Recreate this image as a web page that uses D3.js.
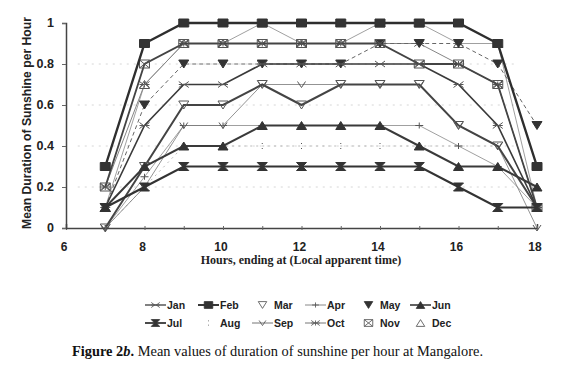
<!DOCTYPE html>
<html><head><meta charset="utf-8">
<script src="https://cdn.jsdelivr.net/npm/d3@7"></script>
<style>body{margin:0;background:#fff}svg{display:block}</style>
</head><body>
<svg id="c" width="572" height="366"></svg>
<script>
const hours = [7,8,9,10,11,12,13,14,15,16,17,18];
const xTicks = [6,8,10,12,14,16,18];
const yTicks = [0,0.2,0.4,0.6,0.8,1];
const yTickLabels = ["0","0.2","0.4","0.6","0.8","1"];
const months = ["Jan","Feb","Mar","Apr","May","Jun","Jul","Aug","Sep","Oct","Nov","Dec"];
const jan = [0.1,0.5,0.7,0.7,0.8,0.8,0.8,0.8,0.8,0.7,0.5,0.1];
const feb = [0.3,0.9,1.0,1.0,1.0,1.0,1.0,1.0,1.0,1.0,0.9,0.3];
const mar = [0.0,0.3,0.6,0.6,0.7,0.6,0.7,0.7,0.7,0.5,0.4,0.1];
const apr = [0.0,0.25,0.5,0.5,0.5,0.5,0.5,0.5,0.5,0.4,0.3,0.1];
const may = [0.1,0.6,0.8,0.8,0.8,0.8,0.8,0.9,0.9,0.9,0.8,0.5];
const jun = [0.1,0.3,0.4,0.4,0.5,0.5,0.5,0.5,0.4,0.3,0.3,0.2];
const jul = [0.1,0.2,0.3,0.3,0.3,0.3,0.3,0.3,0.3,0.2,0.1,0.1];
const aug = [0.0,0.2,0.4,0.4,0.4,0.4,0.4,0.4,0.4,0.4,0.4,0.1];
const sep = [0.0,0.2,0.5,0.5,0.7,0.7,0.7,0.7,0.7,0.5,0.4,0.0];
const oct = [0.2,0.7,0.9,0.9,0.9,0.9,0.9,0.9,0.9,0.8,0.7,0.1];
const nov = [0.2,0.8,0.9,0.9,0.9,0.9,0.9,0.9,0.8,0.8,0.7,0.1];
const dec = [0.1,0.7,0.9,0.9,1.0,0.9,0.9,1.0,1.0,0.9,0.9,0.1];
const seriesValues = [jan,feb,mar,apr,may,jun,jul,aug,sep,oct,nov,dec];

const styles = {
  Jan:{w:1.6,c:"#3a3a3a",dash:null,m:"jan"},
  Feb:{w:2.4,c:"#2e2e2e",dash:null,m:"sq"},
  Mar:{w:2.0,c:"#444",dash:null,m:"tridownO"},
  Apr:{w:0.8,c:"#888",dash:null,m:"plus"},
  May:{w:1.0,c:"#666",dash:"4,3",m:"tridownF"},
  Jun:{w:2.0,c:"#3a3a3a",dash:null,m:"triupF"},
  Jul:{w:2.2,c:"#333",dash:null,m:"hour"},
  Aug:{w:0.8,c:"#aaa",dash:"2,4",m:"dots"},
  Sep:{w:0.8,c:"#777",dash:null,m:"vee"},
  Oct:{w:0.9,c:"#777",dash:null,m:"oct"},
  Nov:{w:1.8,c:"#444",dash:null,m:"boxx"},
  Dec:{w:0.8,c:"#888",dash:null,m:"triupO"}
};
const legendLine = {Jan:true,Feb:true,Mar:false,Apr:true,May:false,Jun:true,Jul:true,Aug:false,Sep:true,Oct:true,Nov:false,Dec:false};

const svg = d3.select("#c");
const x = d3.scaleLinear().domain([6,18]).range([66,537]);
const y = d3.scaleLinear().domain([0,1]).range([228,23]);

svg.append("g").selectAll("line").data([0.2,0.4,0.6,0.8]).join("line")
  .attr("x1",x(6.3)).attr("x2",x(17.5)).attr("y1",d=>y(d)).attr("y2",d=>y(d))
  .attr("stroke","#ccc").attr("stroke-width",0.8).attr("stroke-dasharray","2,5");

function markerPath(t){
  switch(t){
    case "sq": return "M-5,-4H5V4H-5Z";
    case "tridownO": case "tridownF": return "M-5,-4H5L0,4Z";
    case "triupO": case "triupF": return "M-5,4H5L0,-4Z";
    case "hour": return "M-5,-4H5L1,0L5,4H-5L-1,0Z";
    case "plus": return "M0,-3V3M-4,0H4";
    case "jan": return "M-5,-3L-1,0L-5,3M5,-3L1,0L5,3M-5,0H5";
    case "oct": return "M-5,-3L-1,0L-5,3M5,-3L1,0L5,3M0,-3V3M-5,0H5";
    case "vee": return "M-4,-3L0,3L4,-3";
    case "boxx": return "M-5,-4H5V4H-5ZM-5,-4L5,4M5,-4L-5,4";
    case "dots": return "M0,-3V-2M0,2V3";
  }
}
function filled(t){ return ["sq","tridownF","triupF","hour"].includes(t); }

const line = d3.line().x(d=>x(d[0])).y(d=>y(d[1]));
const g = svg.append("g");
const order = [7,3,8,9,11,4,2,0,10,5,6,1];
order.forEach(i=>{
  const m = months[i], s = styles[m];
  const pts = hours.map((h,j)=>[h,seriesValues[i][j]]);
  g.append("path").attr("d",line(pts)).attr("fill","none")
    .attr("stroke",s.c).attr("stroke-width",s.w)
    .attr("stroke-dasharray",s.dash);
  g.append("g").selectAll("path").data(pts).join("path")
    .attr("transform",d=>`translate(${x(d[0])},${y(d[1])})`)
    .attr("d",markerPath(s.m))
    .attr("fill",filled(s.m)?"#333":"#fff")
    .attr("fill-opacity",filled(s.m)?1:0)
    .attr("stroke",filled(s.m)?"#333":"#555")
    .attr("stroke-width",1);
});

const ax = svg.append("g").attr("transform","translate(0,228)")
  .call(d3.axisBottom(x).tickValues(d3.range(6,19)).tickSize(-4).tickFormat(""));
ax.select(".domain").attr("stroke","#444").attr("stroke-width",1.5);
ax.selectAll(".tick line").attr("stroke","#666").attr("transform","translate(0,2)");
const ay = svg.append("g").attr("transform","translate(66,0)")
  .call(d3.axisLeft(y).tickValues(yTicks).tickSize(4).tickFormat(""));
ay.select(".domain").attr("stroke","#444").attr("stroke-width",1.5);
ay.selectAll(".tick line").attr("stroke","#666");

svg.append("g").selectAll("text").data(xTicks).join("text")
  .attr("x",d=>x(d)-2).attr("y",251).attr("text-anchor","middle")
  .attr("font-family","Liberation Sans, Arial, sans-serif").attr("font-weight","bold")
  .attr("font-size",12).attr("fill","#222").text(d=>d);
svg.append("g").selectAll("text").data(yTicks).join("text")
  .attr("x",54).attr("y",d=>y(d)+4).attr("text-anchor","end")
  .attr("font-family","Liberation Sans, Arial, sans-serif").attr("font-weight","bold")
  .attr("font-size",12.5).attr("fill","#222").text((d,i)=>yTickLabels[i]);

svg.append("text").attr("transform","translate(31,123) rotate(-90)")
  .attr("text-anchor","middle").attr("font-family","Liberation Sans, Arial, sans-serif")
  .attr("font-weight","bold").attr("font-size",12.2).attr("fill","#222")
  .text("Mean Duration of Sunshine per Hour");
svg.append("text").attr("x",301).attr("y",264).attr("text-anchor","middle")
  .attr("font-family","Liberation Serif, Times New Roman, serif")
  .attr("font-weight","bold").attr("font-size",12).attr("fill","#222")
  .text("Hours, ending at (Local apparent time)");

const legX = [145,198,252,305,358,410];
const legY = [305,323];
months.forEach((m,i)=>{
  const s = styles[m];
  const cx = legX[i%6], cy = legY[Math.floor(i/6)];
  const lg = svg.append("g");
  if(legendLine[m]){
    lg.append("line").attr("x1",cx).attr("x2",cx+21).attr("y1",cy).attr("y2",cy)
      .attr("stroke",s.c).attr("stroke-width",Math.max(1,s.w*0.8));
  }
  lg.append("path").attr("transform",`translate(${cx+10.5},${cy}) scale(0.85)`)
    .attr("d",markerPath(s.m))
    .attr("fill",filled(s.m)?"#333":"none").attr("stroke",filled(s.m)?"#333":"#555").attr("stroke-width",1);
  lg.append("text").attr("x",cx+22).attr("y",cy+3.8)
    .attr("font-family","Liberation Sans, Arial, sans-serif").attr("font-weight","bold")
    .attr("font-size",10.5).attr("fill","#222").text(m);
});

const cap = svg.append("text").attr("x",72).attr("y",356)
  .attr("font-family","Liberation Serif, Times New Roman, serif").attr("font-size",14.4).attr("fill","#111");
cap.append("tspan").attr("font-weight","bold").text("Figure 2");
cap.append("tspan").attr("font-weight","bold").attr("font-style","italic").text("b");
cap.append("tspan").attr("font-weight","bold").text(".");
cap.append("tspan").text("  Mean values of duration of sunshine per hour at Mangalore.");
</script>
</body></html>
